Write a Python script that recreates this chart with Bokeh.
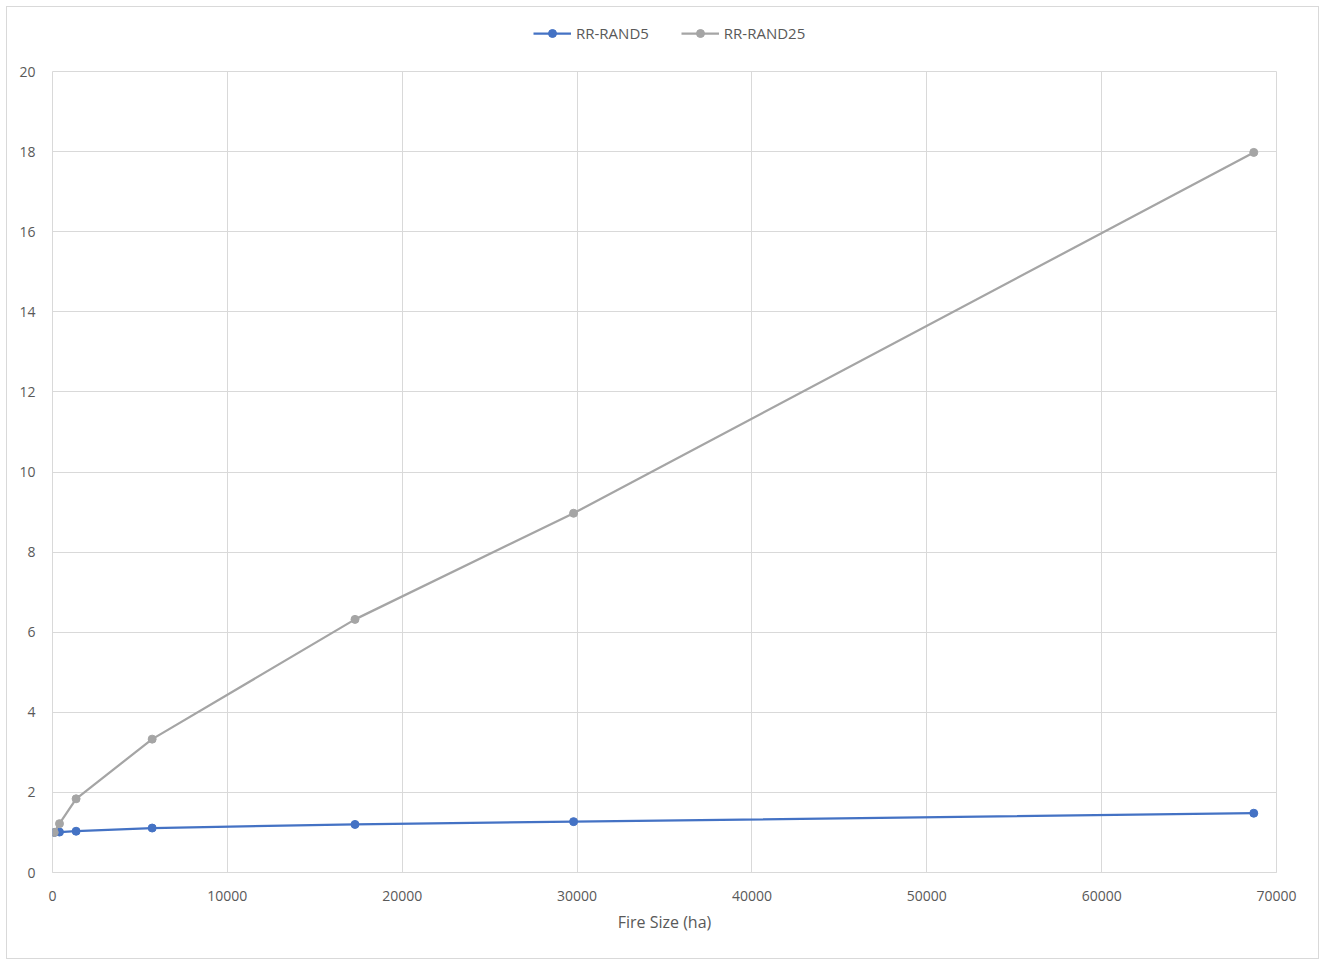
from bokeh.plotting import figure
from bokeh.layouts import column
from bokeh.models import Range1d, FixedTicker, Legend, LegendItem
from bokeh.embed import file_html
from bokeh.resources import INLINE

fire_size = [100, 400, 1350, 5700, 17300, 29800, 68700]
rr_rand5 = [1.0, 1.01, 1.03, 1.11, 1.20, 1.27, 1.48]
rr_rand25 = [1.0, 1.22, 1.84, 3.33, 6.32, 8.97, 17.98]
series_names = ["RR-RAND5", "RR-RAND25"]
x_ticks = [0, 10000, 20000, 30000, 40000, 50000, 60000, 70000]
y_ticks = [0, 2, 4, 6, 8, 10, 12, 14, 16, 18, 20]

FONT = "Open Sans"
GRID = "#d9d9d9"
TXT = "#595959"
BLUE = "#4472C4"
GRAY = "#A5A5A5"

# ---- legend strip on top (its renderers hold data that falls outside its tiny range) ----
leg = figure(width=1311, height=56, output_backend="svg", toolbar_location=None,
             x_range=Range1d(-1, 0), y_range=Range1d(-1, 0),
             x_axis_location=None, y_axis_location=None, min_border=0)
leg.outline_line_color = None
leg.grid.visible = False
leg.background_fill_color = "white"
leg.border_fill_color = "white"
l5l = leg.line(fire_size, rr_rand5, line_color=BLUE, line_width=2.25)
l5s = leg.scatter(fire_size, rr_rand5, size=8, fill_color=BLUE, line_color=BLUE)
l25l = leg.line(fire_size, rr_rand25, line_color=GRAY, line_width=2.25)
l25s = leg.scatter(fire_size, rr_rand25, size=8, fill_color=GRAY, line_color=GRAY)
legend = Legend(items=[LegendItem(label=series_names[0], renderers=[l5l, l5s]),
                       LegendItem(label=series_names[1], renderers=[l25l, l25s])],
                orientation="horizontal", location=(481, 20),
                label_text_font=FONT, label_text_font_size="15px", label_text_color=TXT,
                border_line_color=None, background_fill_alpha=0,
                glyph_width=38, spacing=32, padding=0, margin=0)
leg.add_layout(legend, "center")

# ---- main chart ----
p = figure(width=1311, height=895, output_backend="svg", toolbar_location=None,
           x_range=Range1d(0, 70000), y_range=Range1d(0, 20),
           min_border_left=45, min_border_right=42, min_border_top=8, min_border_bottom=86)
p.outline_line_color = GRID
p.background_fill_color = "white"
p.border_fill_color = "white"

p.line(fire_size, rr_rand5, line_color=BLUE, line_width=2.25)
p.scatter(fire_size, rr_rand5, size=8, fill_color=BLUE, line_color=BLUE)
p.line(fire_size, rr_rand25, line_color=GRAY, line_width=2.25)
p.scatter(fire_size, rr_rand25, size=8, fill_color=GRAY, line_color=GRAY)

for ax in (p.xaxis[0], p.yaxis[0]):
    ax.major_tick_line_color = None
    ax.minor_tick_line_color = None
    ax.major_label_text_font = FONT
    ax.major_label_text_font_size = "14px"
    ax.major_label_text_color = TXT
    ax.axis_label_text_font = FONT
    ax.axis_label_text_font_style = "normal"
    ax.axis_label_text_color = TXT
    ax.axis_label_text_font_size = "16px"

p.xaxis.ticker = FixedTicker(ticks=x_ticks)
p.yaxis.ticker = FixedTicker(ticks=y_ticks)
p.xaxis.axis_line_color = GRID
p.yaxis.axis_line_color = None
p.xaxis.major_label_standoff = 12
p.yaxis.major_label_standoff = 11
p.xaxis.axis_label = "Fire Size (ha)"
p.xaxis.axis_label_standoff = 7

p.xgrid.ticker = FixedTicker(ticks=x_ticks)
p.ygrid.ticker = FixedTicker(ticks=y_ticks)
p.xgrid.grid_line_color = GRID
p.ygrid.grid_line_color = GRID

layout = column(leg, p, spacing=0,
                styles={"border": "1px solid #d9d9d9", "margin-left": "6px", "margin-top": "6px",
                        "background": "white"})

open("out.html", "w").write(file_html(layout, INLINE))
